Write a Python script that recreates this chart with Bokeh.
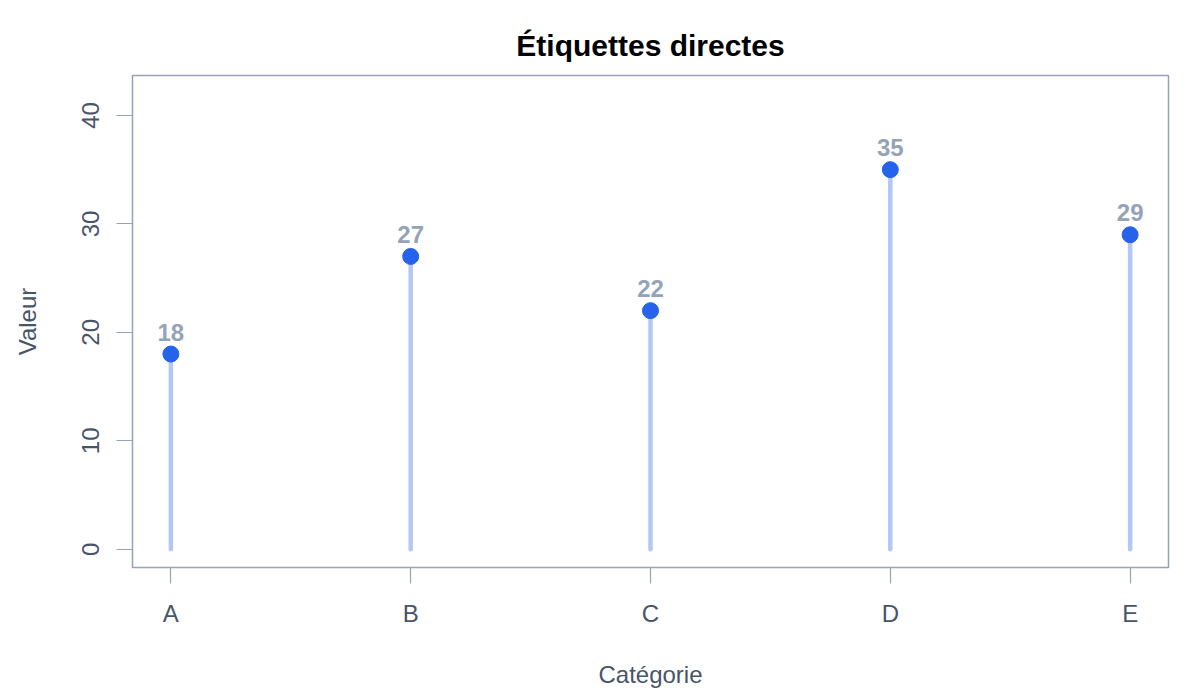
from bokeh.plotting import figure
from bokeh.models import ColumnDataSource, Range1d, FixedTicker, Title
from bokeh.core.properties import value
from bokeh.embed import file_html
from bokeh.resources import INLINE

categories = ["A", "B", "C", "D", "E"]
values = [18, 27, 22, 35, 29]
positions = [1, 2, 3, 4, 5]
y_ticks = [0, 10, 20, 30, 40]

src = ColumnDataSource(dict(
    x=positions, y=values, zero=[0] * len(values),
    lab=[str(v) for v in values],
))

FONT = "Liberation Sans"
AX = "#94a3b8"
TXT = "#475569"

p = figure(width=1192, height=692, output_backend="svg", toolbar_location=None,
           x_range=Range1d(0.84, 5.16), y_range=Range1d(-1.68, 43.68),
           min_border_left=132, min_border_right=24, min_border_top=75,
           min_border_bottom=125)
p.title = Title(text="Étiquettes directes", align="center",
                text_font=FONT, text_font_size="30px", text_font_style="bold",
                text_color="#000000", offset=0, standoff=28)
p.outline_line_color = AX
p.outline_line_width = 1.5
p.background_fill_color = "white"
p.border_fill_color = "white"
p.xgrid.visible = False
p.ygrid.visible = False

p.segment(x0="x", y0="zero", x1="x", y1="y", source=src,
          line_color="#b4c6f5", line_width=4.5, line_cap="round")
p.scatter(x="x", y="y", source=src, size=16, fill_color="#2563eb",
          line_color="#2563eb")
p.text(x="x", y="y", text="lab", source=src, text_align="center",
       text_baseline="alphabetic", y_offset=-22, text_font=value(FONT),
       text_font_size="24px", text_font_style="bold", text_color=AX)

for ax in (p.xaxis[0], p.yaxis[0]):
    ax.axis_line_color = None
    ax.major_tick_line_color = AX
    ax.major_tick_line_width = 1.2
    ax.major_tick_out = 16
    ax.major_tick_in = 0
    ax.minor_tick_line_color = None
    ax.major_label_text_font = FONT
    ax.major_label_text_font_size = "24px"
    ax.major_label_text_color = TXT
    ax.axis_label_text_font = FONT
    ax.axis_label_text_font_size = "24px"
    ax.axis_label_text_font_style = "normal"
    ax.axis_label_text_color = TXT

p.xaxis[0].ticker = FixedTicker(ticks=positions)
p.xaxis[0].major_label_overrides = {pos: c for pos, c in zip(positions, categories)}
p.xaxis[0].major_label_standoff = 16
p.xaxis[0].axis_label = "Catégorie"
p.xaxis[0].axis_label_standoff = 31

p.yaxis[0].ticker = FixedTicker(ticks=y_ticks)
p.yaxis[0].major_label_orientation = "vertical"
p.yaxis[0].major_label_standoff = 17
p.yaxis[0].axis_label = "Valeur"
p.yaxis[0].axis_label_standoff = 39

open("out.html", "w").write(file_html(p, INLINE))
